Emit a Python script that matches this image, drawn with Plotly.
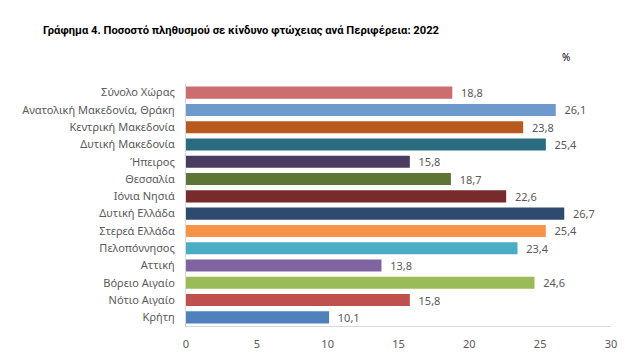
import plotly.graph_objects as go

regions = ["Σύνολο Χώρας", "Ανατολική Μακεδονία, Θράκη", "Κεντρική Μακεδονία",
           "Δυτική Μακεδονία", "Ήπειρος", "Θεσσαλία", "Ιόνια Νησιά", "Δυτική Ελλάδα",
           "Στερεά Ελλάδα", "Πελοπόννησος", "Αττική", "Βόρειο Αιγαίο", "Νότιο Αιγαίο", "Κρήτη"]
values = [18.8, 26.1, 23.8, 25.4, 15.8, 18.7, 22.6, 26.7, 25.4, 23.4, 13.8, 24.6, 15.8, 10.1]
colors = ["#CD6D70", "#6E99CC", "#B85A1E", "#2A6B80", "#4A3B60", "#5F7535", "#772B2D",
          "#2E4A6E", "#F7944A", "#4BACC6", "#8064A2", "#9BBB59", "#C0504D", "#4F81BD"]
tickvals = [0, 5, 10, 15, 20, 25, 30]

FONT = "Noto Sans"
TFONT = "Roboto"
GRAY = "#595959"

fig = go.Figure(go.Bar(
    x=values, y=regions, orientation="h",
    marker=dict(color=colors, line=dict(width=0)),
    texttemplate="\u00a0\u00a0%{x:.1f}", textposition="outside",
    textfont=dict(family=FONT, size=11, color=GRAY),
    constraintext="none",
    cliponaxis=False,
))

fig.update_layout(
    width=636, height=364,
    margin=dict(l=186, r=25, t=84, b=38, autoexpand=False),
    paper_bgcolor="white", plot_bgcolor="white",
    separators=",.",
    bargap=0.3,
    showlegend=False,
    font=dict(family=FONT, size=11, color=GRAY),
    title=dict(text="<b>Γράφημα 4. Ποσοστό πληθυσμού σε κίνδυνο φτώχειας ανά Περιφέρεια: 2022</b>",
               x=43/636, xref="container", xanchor="left",
               y=1-30/364, yref="container", yanchor="middle",
               font=dict(family=TFONT, size=11.2, color="black")),
    xaxis=dict(range=[0, 30], tickvals=tickvals, showgrid=False, zeroline=False,
               showline=True, linecolor="#D9D9D9", linewidth=1,
               ticks="", ticklen=0, ticklabelstandoff=8,
               tickfont=dict(family=FONT, size=11, color=GRAY)),
    yaxis=dict(categoryorder="array", categoryarray=regions, autorange="reversed",
               showline=True, linecolor="#D9D9D9", linewidth=1, showgrid=False,
               ticks="", ticklabelstandoff=8, automargin=False,
               tickfont=dict(family=FONT, size=11, color=GRAY)),
)
fig.add_annotation(text="%", x=(566-186)/425, y=(326-57)/242, xref="paper", yref="paper",
                   showarrow=False, xanchor="center", yanchor="middle",
                   font=dict(family=FONT, size=10, color="black"))

fig.write_html("out.html", config={"displayModeBar": False},
               post_script="document.body.style.margin='0';")
